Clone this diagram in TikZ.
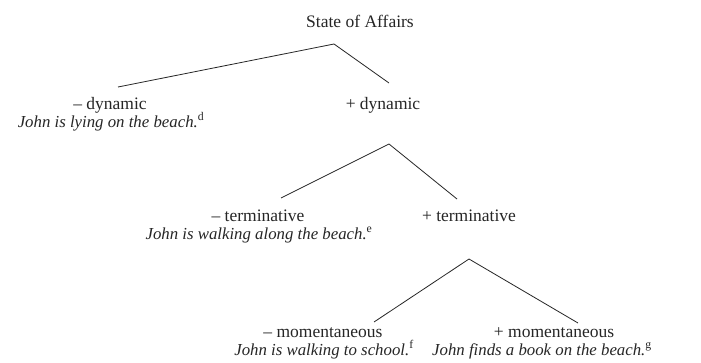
\documentclass[tikz,border=0pt]{standalone}
\usepackage{fontspec}
\setmainfont{Liberation Serif}
\definecolor{ink}{HTML}{262626}
\begin{document}
\begin{tikzpicture}[x=1pt,y=-1pt,
  lab/.style={inner sep=0pt,anchor=base,text=ink,font=\fontsize{17.5}{18}\selectfont},
  ex/.style={inner sep=0pt,anchor=base,text=ink,font=\fontsize{16.8}{18}\selectfont\itshape},
  branch/.style={draw=ink,line width=0.8pt}]
\useasboundingbox[fill=white] (0,0) rectangle (701,362);
% labels
\node[lab] (root) at (360,27) {State of Affairs};
\node[lab] (mdyn) at (110,109) {– dynamic};
\node[ex]  (ex1)  at (111,127) {John is lying on the beach.\textsuperscript{\upshape d}};
\node[lab] (pdyn) at (383,109) {+ dynamic};
\node[lab] (mter) at (258,221) {– terminative};
\node[ex]  (ex2)  at (259,239) {John is walking along the beach.\textsuperscript{\upshape e}};
\node[lab] (pter) at (469,221) {+ terminative};
\node[lab] (mmom) at (323,337) {– momentaneous};
\node[ex]  (ex3)  at (324,355) {John is walking to school.\textsuperscript{\upshape f}};
\node[lab] (pmom) at (554,337) {+ momentaneous};
\node[ex]  (ex4)  at (542,355) {John finds a book on the beach.\textsuperscript{\upshape g}};
% branch points
\coordinate (a1) at (334,44);
\coordinate (a1l) at (118,87);
\coordinate (a1r) at (389,83);
\coordinate (a2) at (389,144);
\coordinate (a2l) at (281,198);
\coordinate (a2r) at (457,199);
\coordinate (a3) at (469,259);
\coordinate (a3l) at (374,322);
\coordinate (a3r) at (578,323);
\draw[branch] (a1l) -- (a1) -- (a1r);
\draw[branch] (a2l) -- (a2) -- (a2r);
\draw[branch] (a3l) -- (a3) -- (a3r);
\end{tikzpicture}
\end{document}
